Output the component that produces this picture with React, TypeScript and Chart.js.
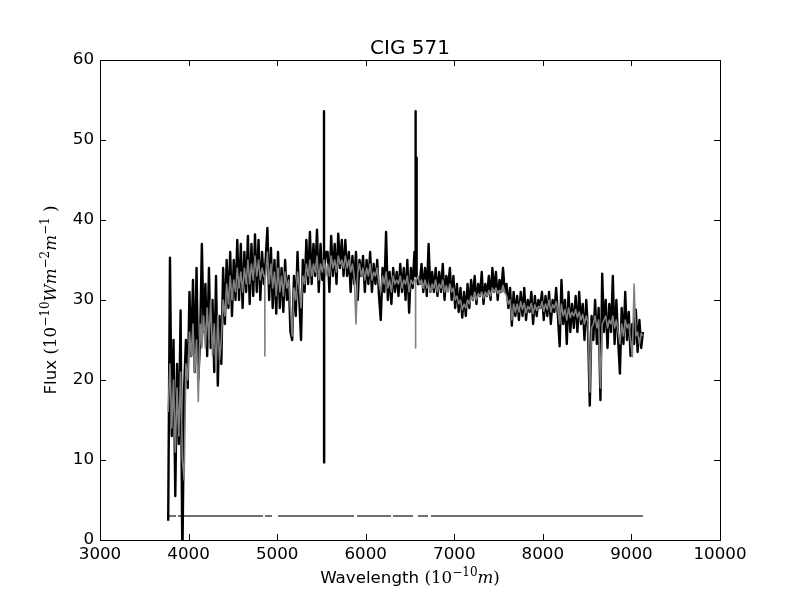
import { Chart, registerables } from 'chart.js';
import { useEffect, useRef } from 'react';

Chart.register(...registerables);

// spectrum is sampled on a regular wavelength grid (Angstrom)
const gridStart = 3770;
const gridStep = 20;

// observed flux (black)
const observedFlux = [
  2.4, 35.3, 13, 25, 5.5, 22, 12, 28.7, -3, 19,
  25, 19, 31, 23, 32.5, 21, 34, 20, 25, 37,
  26, 32, 23, 34, 24, 30, 21, 33, 19.3, 28,
  22, 34, 27, 35, 29, 36, 28, 35, 30, 37.5,
  30, 37, 29, 36, 31, 38, 29.5, 37, 30.5, 38.2,
  31, 37.5, 30, 36, 32, 35, 39, 30, 36.5, 29,
  35, 28.3, 36, 29, 34, 28.5, 35, 30, 33, 26,
  25, 33, 28, 36, 30, 25, 35, 31, 37.5, 32,
  38.5, 32, 37, 33, 38.8, 31, 37, 32.5, 9.7, 36,
  36, 31, 38, 33, 37, 32, 38.3, 34, 37.5, 33,
  37.5, 33, 36, 31, 35.5, 32, 36, 30, 35, 33,
  35.5, 31, 35, 32, 36, 31, 34.5, 32, 35, 30.5,
  27.5, 34, 31, 38.5, 30, 33.5, 29.5, 34, 31, 33.5,
  30.5, 34.5, 31, 34, 30, 35, 28.4, 34, 31.5, 36,
  33.5, 32, 32, 34.5, 31, 34, 30.5, 37, 31, 33.5,
  31, 34, 30.5, 33.5, 31, 34.5, 30, 33, 31.5, 34,
  30, 33, 29, 32, 28.5, 31.5, 27.8, 31, 28, 32,
  29, 32.5, 30, 33, 29.5, 32, 30.5, 33.5, 29.5, 32,
  30.5, 33, 30, 34, 31, 33.5, 30, 32.5, 31, 34,
  31, 32, 29, 31.5, 26.8, 31, 28, 30.5, 27.5, 31,
  28, 31.5, 27.5, 30, 28.5, 31, 27, 30.5, 28, 30,
  29, 31, 27.5, 30.5, 28, 31, 27, 30, 28.5, 31.5,
  28, 24.2, 32.5, 27, 30, 24.5, 31, 26, 29.5, 26.5,
  30.5, 26, 31, 27, 29.5, 25, 30, 26, 16.8, 28,
  25, 30, 24.5, 29, 17.5, 33.3, 26, 30, 24, 29.5,
  26, 33, 24.5, 30, 25, 20.8, 29, 24.5, 31, 25,
  28.5, 23, 27, 24.5, 28.8, 23.5, 27.5, 24, 26,
];

// narrow emission lines in the observed spectrum
const observedLineWave = [5528, 5529, 5531, 6562, 6563, 6564, 6574, 6575, 6576];
const observedLineFlux = [33, 53.6, 34, 33, 53.6, 34, 33, 47.8, 33];

// model flux (grey)
const modelFlux = [
  16, 22, 14, 20, 11, 19, 13, 21, 10, 7.5,
  22, 20, 26, 23, 27, 21, 25, 17.3, 27, 24,
  28, 24, 29, 25, 30, 23, 27, 21, 28, 22.5,
  25, 30, 28, 32, 29.5, 33, 30, 32.5, 31, 34,
  31.5, 33.5, 31, 34, 32, 35, 32, 34.5, 32.5, 35.5,
  33, 35, 32.5, 34, 33, 33, 36, 32, 34.5, 31.5,
  33.5, 30.5, 34, 31, 33, 30.5, 33.5, 31.5, 32.5, 29,
  25.5, 31.5, 30, 33.5, 31.5, 29, 33, 32, 34.5, 33,
  35, 33, 34.5, 33.5, 35.5, 32.5, 34.5, 33.5, 35, 33,
  34.5, 33, 35.5, 34, 35, 33.5, 35.5, 34.5, 35, 34,
  35.5, 34, 35, 33.5, 34.5, 33, 27, 33.5, 34.5, 33,
  34, 32.5, 34, 33, 34.5, 32.5, 33.5, 33, 34, 32,
  31, 33, 32, 33.5, 31.5, 32.5, 31, 33, 32, 32.5,
  32, 33, 31.5, 32.5, 32, 33, 31, 32.5, 32, 32.5,
  32.5, 33, 32, 32.5, 31.5, 32.5, 31.5, 32, 31, 32,
  31.5, 32.5, 31, 32, 31.5, 32.5, 31, 31.8, 31, 32,
  31, 31.5, 30, 30.5, 29.5, 30, 28.8, 29.5, 29, 30,
  29.5, 30.5, 30, 31, 30, 30.8, 30.5, 31, 30.2, 31,
  30.5, 31.2, 30.5, 31.5, 31, 31.5, 30.8, 31.2, 31, 31.8,
  31, 30.5, 29.5, 30, 27.5, 29.5, 28.5, 29.5, 28.5, 29.8,
  28.8, 29.6, 28.4, 29.2, 28.8, 29.6, 28.3, 29.4, 28.7, 29.2,
  29, 29.8, 28.6, 29.5, 28.8, 30, 28.5, 29.4, 29, 29.8,
  28.8, 27, 29.5, 28, 28.8, 27.5, 29, 27.8, 28.5, 28,
  28.8, 27.8, 28.5, 27.5, 28.2, 27, 28, 27.2, 18.5, 26.5,
  27, 28, 26.5, 27.5, 19, 27, 27.5, 28, 26.5, 27.5,
  27, 28, 26.5, 27.5, 26, 24.5, 27, 25.5, 27.5, 26.5,
  27, 25, 22.9, 32, 25.5, 26, 24.5, 25.8, 25.5,
];

// narrow absorption lines in the model (H-beta, H-alpha)
const modelLineWave = [4860, 4861, 4862, 6562, 6563, 6564];
const modelLineFlux = [33, 23, 33, 32.5, 24, 32.5];

// mask line segments
const maskLevel = 3;
const maskStarts = [3760, 3881, 4863, 5010, 5902, 6308, 6590, 6737];
const maskEnds = [3858, 4840, 4942, 5868, 6285, 6534, 6703, 9130];

const xTicks = [3000, 4000, 5000, 6000, 7000, 8000, 9000, 10000];
const yTicks = [0, 10, 20, 30, 40, 50, 60];

const SANS = '"DejaVu Sans", sans-serif';
const SERIF = '"DejaVu Serif", serif';

type Run = { text: string; font: string; dy?: number };

const drawRuns = (ctx: CanvasRenderingContext2D, runs: Run[], cx: number, y: number) => {
  let total = 0;
  runs.forEach((r) => {
    ctx.font = r.font;
    total += ctx.measureText(r.text).width;
  });
  let x = cx - total / 2;
  runs.forEach((r) => {
    ctx.font = r.font;
    ctx.fillText(r.text, x, y + (r.dy || 0));
    x += ctx.measureText(r.text).width;
  });
};

const toPoints = (flux: number[], lineWave: number[], lineFlux: number[]) => {
  const pts = flux.map((v, i) => ({ x: gridStart + i * gridStep, y: v }));
  lineWave.forEach((w, i) => pts.push({ x: w, y: lineFlux[i] }));
  return pts.sort((a, b) => a.x - b.x);
};

const framePlugin = {
  id: 'frame',
  afterDraw(chart: any) {
    const { ctx, chartArea } = chart;
    const { left, right, top, bottom } = chartArea;
    const xs = chart.scales.x;
    const ys = chart.scales.y;
    ctx.save();
    ctx.strokeStyle = '#000';
    ctx.lineWidth = 1;
    ctx.strokeRect(left + 0.5, top + 0.5, right - left, bottom - top);
    ctx.beginPath();
    xTicks.forEach((t) => {
      const px = Math.round(xs.getPixelForValue(t)) + 0.5;
      ctx.moveTo(px, bottom);
      ctx.lineTo(px, bottom - 6);
      ctx.moveTo(px, top);
      ctx.lineTo(px, top + 6);
    });
    yTicks.forEach((t) => {
      const py = Math.round(ys.getPixelForValue(t)) + 0.5;
      ctx.moveTo(left, py);
      ctx.lineTo(left + 6, py);
      ctx.moveTo(right, py);
      ctx.lineTo(right - 6, py);
    });
    ctx.stroke();

    ctx.fillStyle = '#000';
    ctx.textBaseline = 'alphabetic';
    ctx.textAlign = 'left';
    const cx = (left + right) / 2;
    drawRuns(ctx, [{ text: 'CIG 571', font: `20px ${SANS}` }], cx, 54);

    const base = `16.7px ${SERIF}`;
    const ital = `italic 16.7px ${SERIF}`;
    const sup = `12px ${SERIF}`;
    drawRuns(ctx, [
      { text: 'Wavelength ', font: `16.7px ${SANS}` },
      { text: '(10', font: base },
      { text: '\u221210', font: sup, dy: -7 },
      { text: 'm', font: ital },
      { text: ')', font: base },
    ], cx, 583);

    ctx.translate(56, (top + bottom) / 2);
    ctx.rotate(-Math.PI / 2);
    drawRuns(ctx, [
      { text: 'Flux ', font: `16.7px ${SANS}` },
      { text: '(10', font: base },
      { text: '\u221210', font: sup, dy: -7 },
      { text: 'Wm', font: ital },
      { text: '\u22122', font: sup, dy: -7 },
      { text: 'm', font: ital },
      { text: '\u22121', font: sup, dy: -7 },
      { text: ' )', font: base },
    ], 0, 0);
    ctx.restore();
  },
};

const App = () => {
  const ref = useRef<HTMLCanvasElement>(null);

  useEffect(() => {
    if (ref.current == null) return () => {};
    const obs = toPoints(observedFlux, observedLineWave, observedLineFlux);
    const model = toPoints(modelFlux, modelLineWave, modelLineFlux);
    const mask: { x: number; y: number | null }[] = [];
    maskStarts.forEach((s, i) => {
      if (i > 0) mask.push({ x: (maskEnds[i - 1] + s) / 2, y: null });
      mask.push({ x: s, y: maskLevel });
      mask.push({ x: maskEnds[i], y: maskLevel });
    });

    const chart = new Chart(ref.current, {
      type: 'line',
      data: {
        datasets: [
          {
            label: 'model',
            data: model,
            borderColor: '#808080',
            borderWidth: 1.6,
            pointRadius: 0,
            borderJoinStyle: 'round',
            order: 0,
          },
          {
            label: 'observed',
            data: obs,
            borderColor: '#000000',
            borderWidth: 2.4,
            pointRadius: 0,
            borderJoinStyle: 'round',
            order: 1,
          },
          {
            label: 'mask',
            data: mask as any,
            borderColor: '#65737d',
            borderWidth: 2,
            pointRadius: 0,
            spanGaps: false,
            order: 2,
          },
        ],
      },
      options: {
        animation: false,
        responsive: true,
        maintainAspectRatio: false,
        layout: { padding: { left: 0, top: 60, right: 80, bottom: 0 } },
        plugins: {
          legend: { display: false },
          tooltip: { enabled: false },
          title: { display: false },
        },
        scales: {
          x: {
            type: 'linear',
            min: 3000,
            max: 10000,
            afterFit: (scale: any) => { scale.height = 60; },
            afterBuildTicks: (scale: any) => { scale.ticks = xTicks.map((v) => ({ value: v })); },
            grid: { display: false, drawTicks: false },
            border: { display: false },
            ticks: {
              padding: 5,
              color: '#000',
              font: { family: SANS, size: 16.7 },
              maxRotation: 0,
              callback: (v: any) => String(v),
            },
          },
          y: {
            type: 'linear',
            min: 0,
            max: 60,
            afterFit: (scale: any) => { scale.width = 100; },
            afterBuildTicks: (scale: any) => { scale.ticks = yTicks.map((v) => ({ value: v })); },
            grid: { display: false, drawTicks: false },
            border: { display: false },
            ticks: {
              padding: 6,
              color: '#000',
              font: { family: SANS, size: 16.7 },
              callback: (v: any) => String(v),
            },
          },
        },
      },
      plugins: [framePlugin],
    });
    return () => {
      chart.destroy();
    };
  }, []);

  return (
    <div style={{ position: 'fixed', left: 0, top: 0, width: 800, height: 600, background: '#fff' }}>
      <canvas ref={ref} />
    </div>
  );
};

export default App;
